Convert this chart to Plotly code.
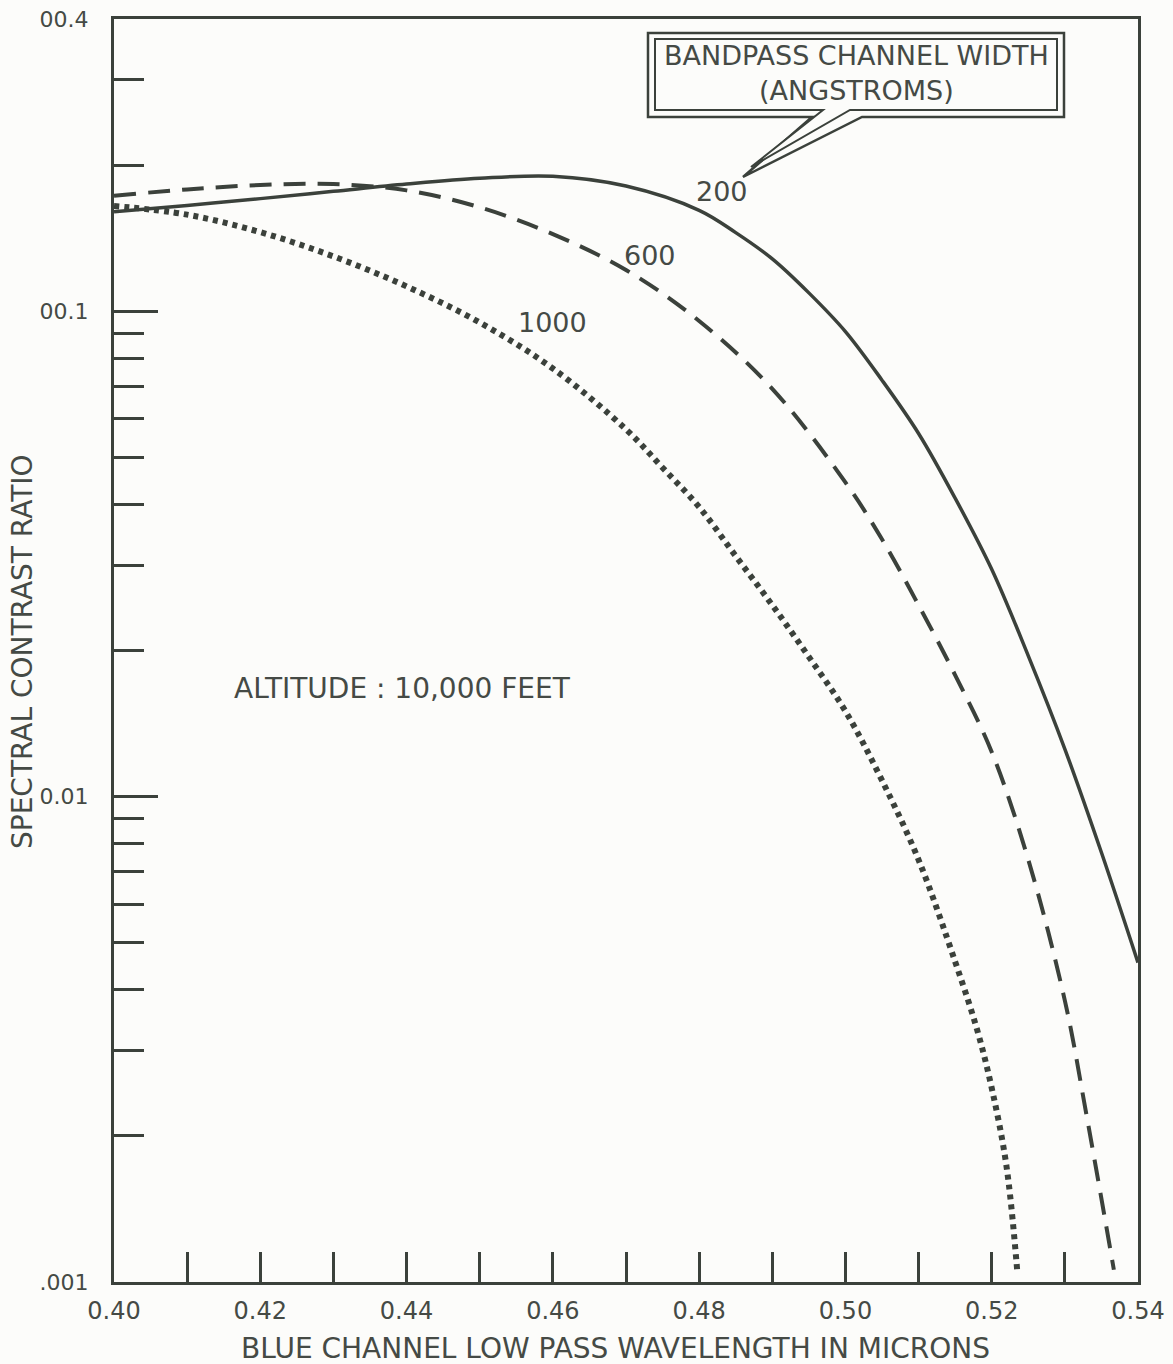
import math
import plotly.graph_objects as go

# Spectral contrast ratio vs. blue-channel low-pass wavelength, altitude 10,000 ft
wl_200 = [0.400, 0.410, 0.420, 0.430, 0.440, 0.450, 0.460, 0.470, 0.480, 0.485,
          0.490, 0.495, 0.500, 0.505, 0.510, 0.515, 0.520, 0.525, 0.530, 0.535, 0.540]
ratio_200 = [0.1603, 0.1652, 0.1706, 0.1766, 0.1828, 0.1879, 0.1897, 0.1811, 0.1614, 0.1452,
             0.1282, 0.1091, 0.0908, 0.0721, 0.0560, 0.0412, 0.0294, 0.0195, 0.01253, 0.00767,
             0.00455]

wl_600 = [0.400, 0.410, 0.420, 0.430, 0.440, 0.450, 0.460, 0.470, 0.480, 0.490,
          0.500, 0.505, 0.510, 0.515, 0.520, 0.525, 0.530, 0.533, 0.5367]
ratio_600 = [0.1730, 0.1782, 0.1820, 0.1828, 0.1774, 0.1637, 0.1442, 0.1216, 0.0955, 0.0692,
             0.0444, 0.0339, 0.0248, 0.0178, 0.01236, 0.00741, 0.00380, 0.00219, 0.00106]

wl_1000 = [0.400, 0.410, 0.420, 0.430, 0.440, 0.450, 0.460, 0.470, 0.475, 0.480,
           0.485, 0.490, 0.495, 0.500, 0.505, 0.510, 0.515, 0.518, 0.520, 0.522, 0.5235]
ratio_1000 = [0.1648, 0.1581, 0.1455, 0.1297, 0.1125, 0.0948, 0.0762, 0.0571, 0.0476, 0.0395,
              0.0313, 0.0248, 0.0194, 0.0150, 0.0108, 0.00741, 0.00457, 0.00331, 0.00251, 0.00174,
              0.00105]

x_ticks = [0.40, 0.41, 0.42, 0.43, 0.44, 0.45, 0.46, 0.47, 0.48, 0.49, 0.50, 0.51, 0.52, 0.53, 0.54]
x_tick_text = ["0.40", "", "0.42", "", "0.44", "", "0.46", "", "0.48", "", "0.50", "", "0.52", "", "0.54"]
y_ticks = [0.001, 0.01, 0.1, 0.4]
y_tick_text = [".001", "0.01", "00.1", "00.4"]
y_minor_ticks = [0.002, 0.003, 0.004, 0.005, 0.006, 0.007, 0.008, 0.009,
                 0.02, 0.03, 0.04, 0.05, 0.06, 0.07, 0.08, 0.09, 0.2, 0.3]

INK = "#3b413b"
TEXT = "#454a45"
BG = "#fcfcfa"
FONT = "DejaVu Sans"

W, H = 1173, 1364
ML, MR, MT, MB = 114, 35, 19, 82
PW, PH = W - ML - MR, H - MT - MB


def paper(px, py):
    """Figure pixel position -> paper coordinates."""
    return (px - ML) / PW, (H - MB - py) / PH


def path(points):
    pts = [paper(px, py) for px, py in points]
    return "M " + " L ".join(f"{x:.5f},{y:.5f}" for x, y in pts) + " Z"


def note(px, py, text, size, **kw):
    x, y = paper(px, py)
    opts = dict(xanchor="center", yanchor="middle")
    opts.update(kw)
    return dict(x=x, y=y, xref="paper", yref="paper", showarrow=False, text=text,
                font=dict(size=size, color=TEXT, family=FONT), **opts)


fig = go.Figure()
fig.add_trace(go.Scatter(x=wl_200, y=ratio_200, mode="lines", line_shape="spline",
                         line=dict(color=INK, width=3.5), name="200"))
fig.add_trace(go.Scatter(x=wl_600, y=ratio_600, mode="lines", line_shape="spline",
                         line=dict(color=INK, width=4, dash="22px,12px"), name="600"))
fig.add_trace(go.Scatter(x=wl_1000, y=ratio_1000, mode="lines", line_shape="spline",
                         line=dict(color=INK, width=6, dash="5px,5px"), name="1000"))

# callout box: double outline with a pointer toward the 200 curve
outer = [(648, 33), (1064, 33), (1064, 117), (862, 117), (743, 177), (812, 117), (648, 117)]
inner = [(655, 39), (1057, 39), (1057, 110), (850, 110), (751, 167), (823, 110), (655, 110)]
shapes = [
    dict(type="path", xref="paper", yref="paper", path=path(outer),
         line=dict(color=INK, width=2.5), fillcolor=BG),
    dict(type="path", xref="paper", yref="paper", path=path(inner),
         line=dict(color=INK, width=2), fillcolor=BG),
]

annotations = [
    note(856, 73, "BANDPASS CHANNEL WIDTH<br>(ANGSTROMS)", 27),
    note(615, 1348, "BLUE CHANNEL LOW PASS WAVELENGTH IN MICRONS", 28),
    note(22, 652, "SPECTRAL CONTRAST RATIO", 28, textangle=-90),
    note(232, 688, "ALTITUDE : 10,000 FEET", 28, xanchor="left"),
    note(722, 192, "200", 27),
    note(650, 256, "600", 27),
    note(552, 323, "1000", 27),
]

fig.update_layout(
    width=W, height=H,
    margin=dict(l=ML, r=MR, t=MT, b=MB),
    paper_bgcolor=BG, plot_bgcolor=BG,
    showlegend=False,
    font=dict(family=FONT, color=TEXT),
    shapes=shapes,
    annotations=annotations,
    xaxis=dict(
        range=[0.40, 0.54], tickmode="array", tickvals=x_ticks, ticktext=x_tick_text,
        ticks="inside", ticklen=30, tickwidth=3, tickcolor=INK,
        showline=True, linewidth=3, linecolor=INK, mirror=True,
        showgrid=False, zeroline=False, ticklabelstandoff=5, automargin=False,
        tickfont=dict(size=24, color=TEXT, family=FONT),
    ),
    yaxis=dict(
        type="log", range=[-3, math.log10(0.4)], tickmode="array",
        tickvals=y_ticks, ticktext=y_tick_text,
        ticks="inside", ticklen=44, tickwidth=3, tickcolor=INK,
        minor=dict(tickmode="array", tickvals=y_minor_ticks, ticks="inside",
                   ticklen=30, tickwidth=3, tickcolor=INK, showgrid=False),
        showline=True, linewidth=3, linecolor=INK, mirror=True,
        showgrid=False, zeroline=False, ticklabelstandoff=18, automargin=False,
        tickfont=dict(size=22, color=TEXT, family=FONT),
    ),
)

fig.write_html("out.html")
